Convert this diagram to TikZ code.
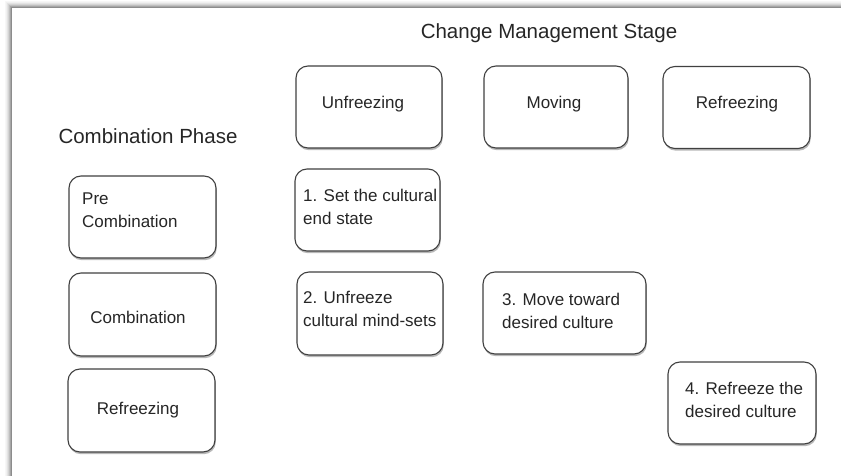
\documentclass[tikz,border=0pt]{standalone}
\usepackage{fontspec}
\setmainfont{Liberation Sans}
\usetikzlibrary{shadows}
\tikzset{
  box/.style={draw=black!75, line width=1.1pt, rounded corners=12pt, fill=white,
    drop shadow={shadow xshift=0.8pt, shadow yshift=-2.2pt, fill=black!35, opacity=0.8},
    inner sep=0pt},
  txt/.style={font=\fontsize{17}{23}\selectfont, text=black!85, inner sep=0pt},
  ltxt/.style={txt, align=left, anchor=west},
  title/.style={font=\fontsize{20.5}{24}\selectfont, text=black!85, inner sep=0pt}
}
\begin{document}
\begin{tikzpicture}[x=1pt, y=-1pt]
\useasboundingbox (0,0) rectangle (841,476);
% page frame shadow
\foreach \i/\c in {0/45,1/35,2/25,3/17,4/11,5/6,6/3}{
  \draw[black!\c, line width=1pt] (11.5-\i,476) -- (11.5-\i,7.5-\i) -- (841,7.5-\i);
}
% titles
\node[title] (cms) at (549,33) {Change Management Stage};
\node[title] (cph) at (148,136) {Combination Phase};
% top row
\node[box, minimum width=146pt, minimum height=82pt] (unf) at (369,107) {};
\node[txt] (unft) at (363,104) {Unfreezing};
\node[box, minimum width=144pt, minimum height=82pt] (mov) at (556,107) {};
\node[txt] (movt) at (554,104) {Moving};
\node[box, minimum width=147pt, minimum height=82pt] (ref) at (736.5,107.5) {};
\node[txt] (reft) at (737,104) {Refreezing};
% left column
\node[box, minimum width=147pt, minimum height=82pt] (pre) at (142.5,217) {};
\node[ltxt] (pret) at (82,210) {Pre\\Combination};
\node[box, minimum width=147pt, minimum height=83pt] (com) at (142.5,314.5) {};
\node[txt] (comt) at (138,317) {Combination};
\node[box, minimum width=147pt, minimum height=83pt] (lref) at (141.5,410.5) {};
\node[txt] (lreft) at (138,410) {Refreezing};
% steps
\node[box, minimum width=145pt, minimum height=82pt] (s1) at (367.5,210) {};
\node[ltxt] (s1t) at (303,207) {1. Set the cultural\\end state};
\node[box, minimum width=146pt, minimum height=83pt] (s2) at (370,313.5) {};
\node[ltxt] (s2t) at (303,309) {2. Unfreeze\\cultural mind-sets};
\node[box, minimum width=163pt, minimum height=82pt] (s3) at (564.5,313) {};
\node[ltxt] (s3t) at (502,311) {3. Move toward\\desired culture};
\node[box, minimum width=148pt, minimum height=82pt] (s4) at (742,403) {};
\node[ltxt] (s4t) at (685,400) {4. Refreeze the\\desired culture};
\end{tikzpicture}
\end{document}
